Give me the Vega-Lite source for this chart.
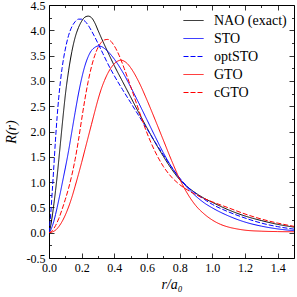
{
  "$schema": "https://vega.github.io/schema/vega-lite/v6.json",
  "width": 245,
  "height": 253,
  "autosize": "none",
  "padding": {"left": 49, "top": 5, "right": 3, "bottom": 39},
  "config": {
    "font": "Liberation Serif",
    "view": {"stroke": "#000", "strokeWidth": 1},
    "axis": {"labelFont": "Liberation Serif", "labelFontSize": 12, "labelColor": "#000", "titleFont": "Liberation Serif", "titleFontSize": 14, "titleFontWeight": "normal", "titleColor": "#000", "tickColor": "#000", "tickWidth": 0.8, "domain": false, "grid": false, "labelFlush": false},
    "legend": {"labelFont": "Liberation Serif", "labelFontSize": 14, "labelColor": "#000"}
  },
  "data": {"values": [
    {"s":"NAO (exact)","r":0,"R":0},{"s":"NAO (exact)","r":0.01,"R":0.13},{"s":"NAO (exact)","r":0.02,"R":0.33},{"s":"NAO (exact)","r":0.03,"R":0.57},{"s":"NAO (exact)","r":0.04,"R":0.83},{"s":"NAO (exact)","r":0.05,"R":1.12},{"s":"NAO (exact)","r":0.06,"R":1.44},{"s":"NAO (exact)","r":0.07,"R":1.77},{"s":"NAO (exact)","r":0.08,"R":2.1},{"s":"NAO (exact)","r":0.09,"R":2.42},{"s":"NAO (exact)","r":0.1,"R":2.72},{"s":"NAO (exact)","r":0.12,"R":3.2},{"s":"NAO (exact)","r":0.14,"R":3.58},{"s":"NAO (exact)","r":0.16,"R":3.86},{"s":"NAO (exact)","r":0.18,"R":4.05},{"s":"NAO (exact)","r":0.2,"R":4.18},{"s":"NAO (exact)","r":0.22,"R":4.26},{"s":"NAO (exact)","r":0.24,"R":4.28},{"s":"NAO (exact)","r":0.26,"R":4.25},{"s":"NAO (exact)","r":0.28,"R":4.15},{"s":"NAO (exact)","r":0.3,"R":4.0},{"s":"NAO (exact)","r":0.33,"R":3.78},{"s":"NAO (exact)","r":0.36,"R":3.57},{"s":"NAO (exact)","r":0.4,"R":3.3},{"s":"NAO (exact)","r":0.45,"R":2.99},{"s":"NAO (exact)","r":0.5,"R":2.68},{"s":"NAO (exact)","r":0.55,"R":2.37},{"s":"NAO (exact)","r":0.6,"R":2.07},{"s":"NAO (exact)","r":0.65,"R":1.78},{"s":"NAO (exact)","r":0.7,"R":1.51},{"s":"NAO (exact)","r":0.75,"R":1.26},{"s":"NAO (exact)","r":0.8,"R":1.05},{"s":"NAO (exact)","r":0.85,"R":0.9},{"s":"NAO (exact)","r":0.9,"R":0.78},{"s":"NAO (exact)","r":0.95,"R":0.68},{"s":"NAO (exact)","r":1.0,"R":0.6},{"s":"NAO (exact)","r":1.1,"R":0.45},{"s":"NAO (exact)","r":1.2,"R":0.33},{"s":"NAO (exact)","r":1.3,"R":0.24},{"s":"NAO (exact)","r":1.4,"R":0.165},{"s":"NAO (exact)","r":1.5,"R":0.11},
    {"s":"STO","r":0,"R":0},{"s":"STO","r":0.01,"R":0.05},{"s":"STO","r":0.02,"R":0.13},{"s":"STO","r":0.03,"R":0.23},{"s":"STO","r":0.04,"R":0.36},{"s":"STO","r":0.05,"R":0.5},{"s":"STO","r":0.06,"R":0.65},{"s":"STO","r":0.07,"R":0.8},{"s":"STO","r":0.08,"R":0.96},{"s":"STO","r":0.09,"R":1.12},{"s":"STO","r":0.1,"R":1.28},{"s":"STO","r":0.12,"R":1.62},{"s":"STO","r":0.14,"R":2.0},{"s":"STO","r":0.16,"R":2.38},{"s":"STO","r":0.18,"R":2.74},{"s":"STO","r":0.2,"R":3.05},{"s":"STO","r":0.22,"R":3.3},{"s":"STO","r":0.24,"R":3.48},{"s":"STO","r":0.26,"R":3.6},{"s":"STO","r":0.28,"R":3.66},{"s":"STO","r":0.3,"R":3.69},{"s":"STO","r":0.32,"R":3.68},{"s":"STO","r":0.34,"R":3.64},{"s":"STO","r":0.37,"R":3.55},{"s":"STO","r":0.4,"R":3.43},{"s":"STO","r":0.45,"R":3.18},{"s":"STO","r":0.5,"R":2.88},{"s":"STO","r":0.55,"R":2.56},{"s":"STO","r":0.6,"R":2.23},{"s":"STO","r":0.65,"R":1.9},{"s":"STO","r":0.7,"R":1.58},{"s":"STO","r":0.75,"R":1.3},{"s":"STO","r":0.8,"R":1.07},{"s":"STO","r":0.85,"R":0.88},{"s":"STO","r":0.9,"R":0.72},{"s":"STO","r":0.95,"R":0.59},{"s":"STO","r":1.0,"R":0.49},{"s":"STO","r":1.1,"R":0.33},{"s":"STO","r":1.2,"R":0.21},{"s":"STO","r":1.3,"R":0.13},{"s":"STO","r":1.4,"R":0.075},{"s":"STO","r":1.5,"R":0.04},
    {"s":"optSTO","r":0,"R":0},{"s":"optSTO","r":0.01,"R":0.35},{"s":"optSTO","r":0.02,"R":0.82},{"s":"optSTO","r":0.03,"R":1.33},{"s":"optSTO","r":0.04,"R":1.85},{"s":"optSTO","r":0.05,"R":2.3},{"s":"optSTO","r":0.06,"R":2.68},{"s":"optSTO","r":0.07,"R":2.99},{"s":"optSTO","r":0.08,"R":3.25},{"s":"optSTO","r":0.09,"R":3.46},{"s":"optSTO","r":0.1,"R":3.63},{"s":"optSTO","r":0.12,"R":3.9},{"s":"optSTO","r":0.14,"R":4.07},{"s":"optSTO","r":0.16,"R":4.17},{"s":"optSTO","r":0.18,"R":4.22},{"s":"optSTO","r":0.2,"R":4.22},{"s":"optSTO","r":0.22,"R":4.18},{"s":"optSTO","r":0.24,"R":4.1},{"s":"optSTO","r":0.26,"R":3.99},{"s":"optSTO","r":0.28,"R":3.87},{"s":"optSTO","r":0.3,"R":3.74},{"s":"optSTO","r":0.33,"R":3.54},{"s":"optSTO","r":0.36,"R":3.34},{"s":"optSTO","r":0.4,"R":3.1},{"s":"optSTO","r":0.45,"R":2.83},{"s":"optSTO","r":0.5,"R":2.57},{"s":"optSTO","r":0.55,"R":2.31},{"s":"optSTO","r":0.6,"R":2.05},{"s":"optSTO","r":0.65,"R":1.79},{"s":"optSTO","r":0.7,"R":1.54},{"s":"optSTO","r":0.75,"R":1.3},{"s":"optSTO","r":0.8,"R":1.08},{"s":"optSTO","r":0.85,"R":0.9},{"s":"optSTO","r":0.9,"R":0.77},{"s":"optSTO","r":0.95,"R":0.66},{"s":"optSTO","r":1.0,"R":0.56},{"s":"optSTO","r":1.1,"R":0.41},{"s":"optSTO","r":1.2,"R":0.29},{"s":"optSTO","r":1.3,"R":0.19},{"s":"optSTO","r":1.4,"R":0.12},{"s":"optSTO","r":1.5,"R":0.07},
    {"s":"GTO","r":0,"R":0},{"s":"GTO","r":0.02,"R":0.015},{"s":"GTO","r":0.04,"R":0.05},{"s":"GTO","r":0.06,"R":0.12},{"s":"GTO","r":0.08,"R":0.22},{"s":"GTO","r":0.1,"R":0.35},{"s":"GTO","r":0.12,"R":0.51},{"s":"GTO","r":0.14,"R":0.7},{"s":"GTO","r":0.16,"R":0.92},{"s":"GTO","r":0.18,"R":1.15},{"s":"GTO","r":0.2,"R":1.39},{"s":"GTO","r":0.22,"R":1.64},{"s":"GTO","r":0.24,"R":1.89},{"s":"GTO","r":0.26,"R":2.14},{"s":"GTO","r":0.28,"R":2.39},{"s":"GTO","r":0.3,"R":2.63},{"s":"GTO","r":0.32,"R":2.84},{"s":"GTO","r":0.34,"R":3.01},{"s":"GTO","r":0.36,"R":3.15},{"s":"GTO","r":0.38,"R":3.26},{"s":"GTO","r":0.4,"R":3.34},{"s":"GTO","r":0.42,"R":3.39},{"s":"GTO","r":0.44,"R":3.41},{"s":"GTO","r":0.46,"R":3.39},{"s":"GTO","r":0.48,"R":3.34},{"s":"GTO","r":0.5,"R":3.26},{"s":"GTO","r":0.55,"R":2.98},{"s":"GTO","r":0.6,"R":2.62},{"s":"GTO","r":0.65,"R":2.23},{"s":"GTO","r":0.7,"R":1.83},{"s":"GTO","r":0.75,"R":1.43},{"s":"GTO","r":0.8,"R":1.06},{"s":"GTO","r":0.85,"R":0.76},{"s":"GTO","r":0.9,"R":0.53},{"s":"GTO","r":0.95,"R":0.37},{"s":"GTO","r":1.0,"R":0.25},{"s":"GTO","r":1.05,"R":0.165},{"s":"GTO","r":1.1,"R":0.11},{"s":"GTO","r":1.15,"R":0.075},{"s":"GTO","r":1.2,"R":0.05},{"s":"GTO","r":1.3,"R":0.03},{"s":"GTO","r":1.4,"R":0.022},{"s":"GTO","r":1.5,"R":0.018},
    {"s":"cGTO","r":0,"R":0},{"s":"cGTO","r":0.02,"R":0.04},{"s":"cGTO","r":0.04,"R":0.14},{"s":"cGTO","r":0.06,"R":0.28},{"s":"cGTO","r":0.08,"R":0.46},{"s":"cGTO","r":0.1,"R":0.66},{"s":"cGTO","r":0.12,"R":0.88},{"s":"cGTO","r":0.14,"R":1.14},{"s":"cGTO","r":0.16,"R":1.45},{"s":"cGTO","r":0.18,"R":1.82},{"s":"cGTO","r":0.2,"R":2.24},{"s":"cGTO","r":0.22,"R":2.64},{"s":"cGTO","r":0.24,"R":2.99},{"s":"cGTO","r":0.26,"R":3.28},{"s":"cGTO","r":0.28,"R":3.5},{"s":"cGTO","r":0.3,"R":3.66},{"s":"cGTO","r":0.32,"R":3.76},{"s":"cGTO","r":0.34,"R":3.81},{"s":"cGTO","r":0.36,"R":3.82},{"s":"cGTO","r":0.38,"R":3.78},{"s":"cGTO","r":0.4,"R":3.69},{"s":"cGTO","r":0.43,"R":3.5},{"s":"cGTO","r":0.46,"R":3.25},{"s":"cGTO","r":0.5,"R":2.89},{"s":"cGTO","r":0.55,"R":2.42},{"s":"cGTO","r":0.6,"R":1.97},{"s":"cGTO","r":0.65,"R":1.6},{"s":"cGTO","r":0.7,"R":1.31},{"s":"cGTO","r":0.75,"R":1.1},{"s":"cGTO","r":0.8,"R":0.95},{"s":"cGTO","r":0.85,"R":0.84},{"s":"cGTO","r":0.9,"R":0.75},{"s":"cGTO","r":0.95,"R":0.675},{"s":"cGTO","r":1.0,"R":0.61},{"s":"cGTO","r":1.1,"R":0.49},{"s":"cGTO","r":1.2,"R":0.37},{"s":"cGTO","r":1.3,"R":0.27},{"s":"cGTO","r":1.4,"R":0.19},{"s":"cGTO","r":1.5,"R":0.125}
  ]},
  "layer": [
    {
      "mark": {"type": "line", "strokeWidth": 1, "interpolate": "monotone", "clip": true},
      "encoding": {
        "x": {"field": "r", "type": "quantitative", "scale": {"domain": [0, 1.5], "nice": false, "zero": false},
              "axis": {"orient": "bottom", "values": [0, 0.2, 0.4, 0.6, 0.8, 1.0, 1.2, 1.4], "format": ".1f", "tickSize": -5, "labelPadding": 9, "labelOverlap": false, "title": "r/a₀", "titleFontStyle": "italic", "titlePadding": 4}},
        "y": {"field": "R", "type": "quantitative", "scale": {"domain": [-0.5, 4.5], "nice": false, "zero": false},
              "axis": {"orient": "left", "values": [-0.5, 0, 0.5, 1, 1.5, 2, 2.5, 3, 3.5, 4, 4.5], "labelExpr": "replace(format(datum.value, '.1f'), '−', '-')", "tickSize": -5, "labelPadding": 9, "labelOverlap": false, "title": "R(r)", "titleFontStyle": "italic", "titlePadding": 8}},
        "color": {"field": "s", "type": "nominal", "sort": null,
                  "scale": {"domain": ["NAO (exact)", "STO", "optSTO", "GTO", "cGTO"], "range": ["#000000", "#0000ff", "#0000ff", "#ff0000", "#ff0000"]},
                  "legend": {"orient": "none", "legendX": 134, "legendY": 5, "title": null, "symbolType": "stroke", "symbolSize": 400, "symbolStrokeWidth": 1, "rowPadding": -5.4, "padding": 0, "labelOffset": 10}},
        "strokeDash": {"field": "s", "type": "nominal", "sort": null,
                  "scale": {"domain": ["NAO (exact)", "STO", "optSTO", "GTO", "cGTO"], "range": [[1, 0], [1, 0], [5, 2], [1, 0], [5, 2]]},
                  "legend": {"orient": "none", "legendX": 134, "legendY": 5, "title": null, "symbolType": "stroke", "symbolSize": 400, "symbolStrokeWidth": 1, "rowPadding": -5.4, "padding": 0, "labelOffset": 10}}
      }
    },
    {
      "mark": {"type": "line", "strokeOpacity": 0},
      "encoding": {
        "x": {"field": "r", "type": "quantitative", "axis": {"orient": "top", "values": [0, 0.2, 0.4, 0.6, 0.8, 1.0, 1.2, 1.4], "labels": false, "tickSize": -5, "title": null}},
        "y": {"field": "R", "type": "quantitative", "axis": {"orient": "right", "values": [-0.5, 0, 0.5, 1, 1.5, 2, 2.5, 3, 3.5, 4, 4.5], "labels": false, "tickSize": -5, "title": null}}
      }
    },
    {
      "mark": {"type": "line", "strokeOpacity": 0},
      "encoding": {
        "x": {"field": "r", "type": "quantitative", "axis": {"orient": "bottom", "values": [0.1, 0.3, 0.5, 0.7, 0.9, 1.1, 1.3], "labels": false, "tickSize": -2.5, "title": null}},
        "y": {"field": "R", "type": "quantitative", "axis": {"orient": "left", "values": [-0.25, 0.25, 0.75, 1.25, 1.75, 2.25, 2.75, 3.25, 3.75, 4.25], "labels": false, "tickSize": -2.5, "title": null}}
      }
    },
    {
      "mark": {"type": "line", "strokeOpacity": 0},
      "encoding": {
        "x": {"field": "r", "type": "quantitative", "axis": {"orient": "top", "values": [0.1, 0.3, 0.5, 0.7, 0.9, 1.1, 1.3], "labels": false, "tickSize": -2.5, "title": null}},
        "y": {"field": "R", "type": "quantitative", "axis": {"orient": "right", "values": [-0.25, 0.25, 0.75, 1.25, 1.75, 2.25, 2.75, 3.25, 3.75, 4.25], "labels": false, "tickSize": -2.5, "title": null}}
      }
    }
  ],
  "resolve": {"axis": {"x": "independent", "y": "independent"}}
}
